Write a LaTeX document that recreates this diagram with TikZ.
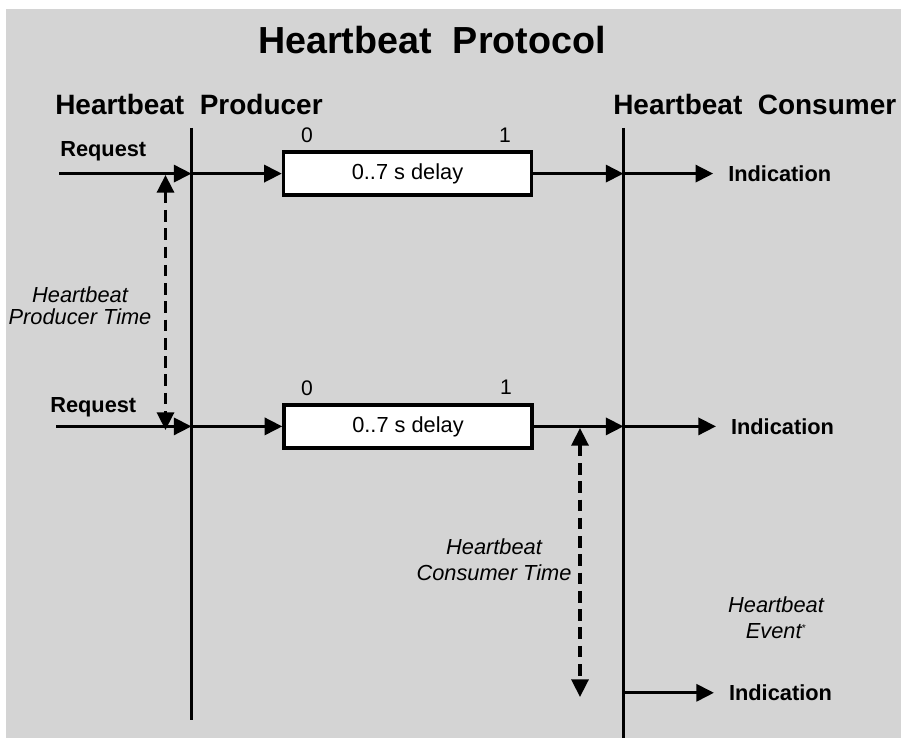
\documentclass[tikz,border=0pt]{standalone}
\usepackage{fontspec}
\setmainfont{Liberation Sans}
\usetikzlibrary{arrows.meta}
\definecolor{panelgray}{HTML}{D4D4D4}

\begin{document}
\begin{tikzpicture}[
    lifeline/.style={line width=2.4pt},
    flow/.style={line width=2.4pt,-{Triangle[length=12.5pt,width=12pt]}},
    timespan/.style={line width=2.4pt,dash pattern=on 8.3pt off 4.7pt,
        {Triangle[length=12.5pt,width=12pt]}-{Triangle[length=12.5pt,width=12pt]}},
    delaybox/.style={draw,line width=2.4pt,fill=white,minimum width=6.2cm,
        minimum height=1.075cm,font=\fontsize{15.5}{18}\selectfont},
    head/.style={font=\bfseries\fontsize{19.9}{24}\selectfont,inner sep=0pt},
    reqlabel/.style={font=\bfseries\fontsize{15.5}{18}\selectfont,inner sep=0pt},
    indlabel/.style={font=\bfseries\fontsize{15.5}{18}\selectfont,anchor=west,inner xsep=10.5pt},
    bitlabel/.style={font=\fontsize{15}{17}\selectfont},
    timenote/.style={font=\itshape\fontsize{15.5}{15.6}\selectfont,align=center}
]
    % Background
    \fill[white] (0,0) rectangle (22.525,18.45);
    \fill[panelgray] (0.15,0) rectangle (22.525,18.225);
    \useasboundingbox (0,0) rectangle (22.525,18.45);

    % Titles
    \node[font=\bfseries\fontsize{26.8}{32}\selectfont,anchor=base] (title) at (10.8,17.1) {Heartbeat\ \ Protocol};
    \node[head,anchor=base west] (prodhead) at (1.375,15.575) {Heartbeat\ \ Producer};
    \node[head,anchor=base west] (conshead) at (15.325,15.575) {Heartbeat\ \ Consumer};

    % Producer and consumer lines
    \coordinate (ptop) at (4.7875,15.25);
    \coordinate (pbot) at (4.7875,0.45);
    \coordinate (ctop) at (15.5875,15.25);
    \coordinate (cbot) at (15.5875,0);
    \draw[lifeline] (ptop) -- (pbot);
    \draw[lifeline] (ctop) -- (cbot);

    % First heartbeat
    \coordinate (req1) at (1.475,14.11);
    \coordinate (p1) at (ptop |- req1);
    \coordinate (c1) at (ctop |- req1);
    \node[reqlabel,anchor=base west] (reqa) at (1.5,14.525) {Request};
    \node[delaybox] (box1) at (10.1875,14.11) {0..7 s delay};
    \node[bitlabel] (zeroa) at (7.675,15.075) {0};
    \node[bitlabel] (onea) at (12.625,15.075) {1};
    \node[indlabel] (ind1) at (17.83,14.11) {Indication};
    \draw[flow] (req1) -- (p1);
    \draw[flow] (p1) -- (box1.west);
    \draw[flow] (box1.east) -- (c1);
    \draw[flow] (c1) -- (ind1.west);

    % Second heartbeat
    \coordinate (req2) at (1.4,7.79);
    \coordinate (p2) at (ptop |- req2);
    \coordinate (c2) at (ctop |- req2);
    \node[reqlabel,anchor=base west] (reqb) at (1.25,8.125) {Request};
    \node[delaybox] (box2) at (10.2,7.79) {0..7 s delay};
    \node[bitlabel] (zerob) at (7.675,8.75) {0};
    \node[bitlabel] (oneb) at (12.65,8.775) {1};
    \node[indlabel] (ind2) at (17.9,7.79) {Indication};
    \draw[flow] (req2) -- (p2);
    \draw[flow] (p2) -- (box2.west);
    \draw[flow] (box2.east) -- (c2);
    \draw[flow] (c2) -- (ind2.west);

    % Heartbeat event
    \coordinate (c3) at (15.5875,1.13);
    \node[indlabel] (ind3) at (17.85,1.13) {Indication};
    \draw[flow] (c3) -- (ind3.west);

    % Time spans
    \coordinate (pt1) at (4.1375,14.075);
    \coordinate (pt2) at (4.1375,7.7);
    \coordinate (ct1) at (14.5,7.75);
    \coordinate (ct2) at (14.5,1.025);
    \draw[timespan] (pt1) -- (pt2);
    \draw[timespan] (ct1) -- (ct2);
    \node[timenote] (ptime) at (2.0,10.8) {Heartbeat\\Producer Time};
    \node[timenote,font=\itshape\fontsize{15.5}{19}\selectfont] (ctime) at (12.35,4.46) {Heartbeat\\Consumer Time};
    \node[timenote,font=\itshape\fontsize{15.5}{18.5}\selectfont] (event) at (19.4,3.0) {Heartbeat\\Event\textsuperscript{\scriptsize*}};
\end{tikzpicture}
\end{document}
